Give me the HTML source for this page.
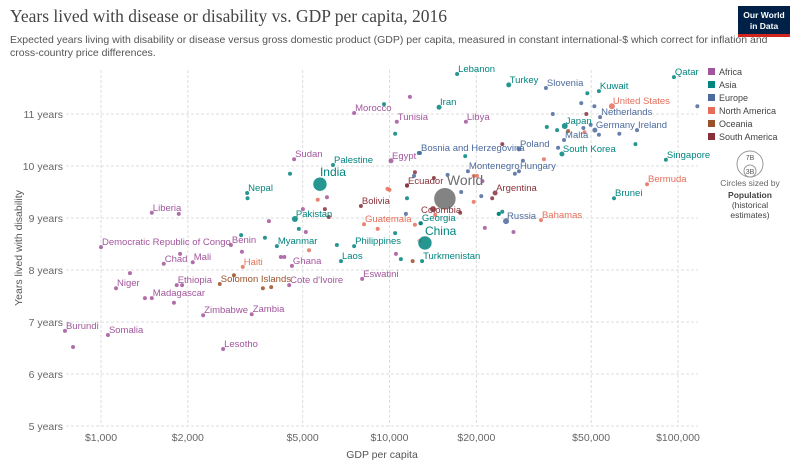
<!DOCTYPE html>
<html><head><meta charset="utf-8">
<style>
body{margin:0;background:#fff;font-family:"Liberation Sans",sans-serif;}
#wrap{position:relative;width:800px;height:466px;overflow:hidden;}
</style></head>
<body>
<div id="wrap">
<svg id="svg" width="800" height="466" xmlns="http://www.w3.org/2000/svg">
<text x="10" y="22" font-family="Liberation Serif,serif" font-size="17.5" fill="#444">Years lived with disease or disability vs. GDP per capita, 2016</text>
<text x="10" y="43" font-size="10.5" fill="#555">Expected years living with disability or disease versus gross domestic product (GDP) per capita, measured in constant international-$ which correct for inflation and</text>
<text x="10" y="56" font-size="10.5" fill="#555">cross-country price differences.</text>
<g>
<rect x="738" y="6" width="52" height="31" fill="#002147"/>
<rect x="738" y="34" width="52" height="3" fill="#ce261e"/>
<text x="764" y="18" font-size="8.5" fill="#fff" text-anchor="middle" font-weight="bold">Our World</text>
<text x="764" y="29" font-size="8.5" fill="#fff" text-anchor="middle" font-weight="bold">in Data</text>
</g>
<g id="grid"></g>
<g id="axes"></g>
<g id="points"></g>
<g id="labels"></g>
<g id="legend"></g>
<g>
<circle cx="750" cy="164" r="13" fill="none" stroke="#999"/>
<circle cx="750" cy="171" r="6" fill="none" stroke="#999"/>
<text x="750" y="160" font-size="7" fill="#555" text-anchor="middle">7B</text>
<text x="750" y="174" font-size="7" fill="#555" text-anchor="middle">3B</text>
<text x="750" y="186" font-size="8.5" fill="#666" text-anchor="middle">Circles sized by</text>
<text x="750" y="198" font-size="8.5" fill="#444" font-weight="bold" text-anchor="middle">Population</text>
<text x="750" y="208" font-size="8.5" fill="#444" text-anchor="middle">(historical</text>
<text x="750" y="218" font-size="8.5" fill="#444" text-anchor="middle">estimates)</text>
</g>
</svg>
</div>
<script>
const regions=["Africa","Asia","Europe","North America","Oceania","South America"];
const regionColors=["#a2559c","#00847e","#4c6a9c","#e56e5a","#9a5129","#883039"];
const xTicks=[1000,2000,5000,10000,20000,50000,100000];
const xTickLabels=["$1,000","$2,000","$5,000","$10,000","$20,000","$50,000","$100,000"];
const yTicks=[5,6,7,8,9,10,11];
// labeled countries: name, region index (-1 world), gdp, years, radius
const names=["Morocco","Tunisia","Sudan","Palestine","India","Nepal","Liberia","Pakistan","Bolivia","Guatemala","Democratic Republic of Congo","Benin","Myanmar","Philippines","Chad","Mali","Haiti","Ghana","Laos","Turkmenistan","China","Georgia","Eswatini","Cote d'Ivoire","Solomon Islands","Ethiopia","Niger","Madagascar","Zimbabwe","Zambia","Burundi","Somalia","Lesotho","Lebanon","Turkey","Slovenia","Kuwait","Qatar","United States","Netherlands","Iran","Libya","Japan","Germany","Ireland","Malta","Poland","South Korea","Singapore","Bosnia and Herzegovina","Egypt","Montenegro","Hungary","Ecuador","World","Colombia","Argentina","Russia","Bahamas","Bermuda","Brunei"];
const nameRegion=[0,0,0,1,1,1,0,1,5,3,0,0,1,1,0,0,3,0,1,1,1,1,0,0,4,0,0,0,0,0,0,0,0,1,1,2,1,1,3,2,1,0,1,2,2,2,2,1,1,2,0,2,2,5,-1,5,5,2,3,3,1];
const nameGdp=[7540,10600,4670,6370,5740,3210,1500,4700,7960,8160,1000,2820,4070,7540,1650,2080,3100,4590,6790,12970,13270,12850,8040,4490,2580,1830,1127,1500,2260,3330,750,1057,2650,17150,25900,34850,53200,96800,59000,53700,14850,18400,40500,51500,72100,40270,28100,39600,90800,12760,10120,18700,28100,11500,15560,14150,23230,25350,33500,78100,60000];
const nameYears=[11.02,10.85,10.13,10.02,9.65,9.48,9.10,8.98,9.23,8.88,8.44,8.48,8.46,8.46,8.12,8.15,8.06,8.08,8.17,8.17,8.52,8.90,7.83,7.71,7.73,7.71,7.65,7.46,7.13,7.15,6.83,6.75,6.48,11.77,11.56,11.50,11.44,11.71,11.15,10.94,11.13,10.85,10.77,10.69,10.69,10.50,10.33,10.23,10.12,10.25,10.10,9.90,9.90,9.62,9.37,9.17,9.48,8.94,8.96,9.65,9.38];
const nameRadius=[2,2,2,2,7,2,2,3,2,2,2,2,2,2,2,2,2,2,2,2,7,2,2,2,2,2,2,2,2,2,2,2,2,2,2.5,2,2,2,3,2,2.5,2,3,2.5,2,2,2.5,2.5,2,2,2.5,2,2,2,11,3,2.5,3,2,2,2];
// unlabeled countries
const otherRegion=[1,1,3,0,0,5,5,0,0,1,0,1,1,1,3,1,1,0,1,5,2,5,3,1,2,3,3,1,0,0,0,0,4,0,4,4,0,0,0,0,1,4,0,1,5,3,5,2,2,1,2,5,1,1,4,3,2,2,1,2,2,3,2,1,2,2,3,3,0,5,2,2,2,5,3,0,1,1,1,3,3,0,2];
const otherGdp=[4520,3220,5640,6070,5010,5970,6160,1860,3820,4850,5130,3060,3700,6570,5260,10460,9570,11770,12640,12250,12160,11500,10000,11500,11400,12250,9100,10460,1880,3080,4200,4320,2890,1260,3640,3890,1420,1790,1910,10530,10950,12030,21400,23940,17580,19580,24600,36800,46200,48500,51300,48100,35100,38100,41600,47400,47000,49800,71200,53200,62600,34300,116700,18300,29000,27200,20100,19600,21000,14250,15900,17720,20800,22700,9840,26900,23900,24600,12800,14400,12700,800,38400];
const otherYears=[9.85,9.38,9.35,9.40,9.17,9.17,9.02,9.08,8.94,8.79,8.73,8.67,8.62,8.48,8.38,10.62,11.19,11.33,10.25,9.88,9.81,9.63,9.54,9.38,9.08,8.87,8.79,8.71,8.31,8.35,8.25,8.25,7.90,7.94,7.65,7.67,7.46,7.37,7.71,8.31,8.21,8.17,8.81,9.08,9.10,9.31,10.42,11.0,11.21,11.40,11.15,11.0,10.75,10.69,10.67,10.65,10.73,10.79,10.42,10.60,10.62,10.13,11.15,10.19,10.10,9.85,9.81,9.81,9.71,9.77,9.83,9.50,9.42,9.38,9.56,8.73,9.08,9.12,8.90,9.06,8.56,6.52,10.35];

const NS="http://www.w3.org/2000/svg";
function xs(v){return 101+(Math.log10(v)-3)*288.5;}
function ys(v){return 114-(v-11)*52;}
function mk(tag,attrs,parent,text){const e=document.createElementNS(NS,tag);for(const k in attrs)e.setAttribute(k,attrs[k]);if(text!==undefined)e.textContent=text;parent.appendChild(e);return e;}
const grid=document.getElementById('grid'),axes=document.getElementById('axes'),pts=document.getElementById('points'),lbl=document.getElementById('labels'),leg=document.getElementById('legend');
yTicks.forEach(t=>{
  const l=mk('line',{x1:66,x2:698,y1:ys(t),y2:ys(t),stroke:'#ddd','stroke-dasharray':'3,2'},grid);
  
  
  const tx=mk('text',{x:63,y:ys(t)+4,'font-size':10.5,fill:'#666','text-anchor':'end'},axes,t+' years');
  
  
});
xTicks.forEach((t,i)=>{
  const l=mk('line',{x1:xs(t),x2:xs(t),y1:70,y2:426,stroke:'#ddd','stroke-dasharray':'3,2'},grid);
  
  
  const tx=mk('text',{x:xs(t),y:441,'font-size':10.5,fill:'#666','text-anchor':'middle'},axes,xTickLabels[i]);
  
  
});
const xt=mk('text',{x:382,y:458,'font-size':10.5,fill:'#555','text-anchor':'middle'},axes,'GDP per capita');


const yt=mk('text',{x:0,y:0,'font-size':10.5,fill:'#555','text-anchor':'middle',transform:'translate(22,248) rotate(-90)'},axes,'Years lived with disability');


otherGdp.forEach((g,i)=>{
  const c=mk('circle',{cx:xs(g),cy:ys(otherYears[i]),r:2,fill:regionColors[otherRegion[i]],'fill-opacity':0.85},pts);
  
  
});
names.forEach((n,i)=>{
  const col=nameRegion[i]<0?'#6d6d6d':regionColors[nameRegion[i]];
  const cx=xs(nameGdp[i]),cy=ys(nameYears[i]),r=nameRadius[i];
  const c=mk('circle',{cx:cx,cy:cy,r:r,fill:col,'fill-opacity':0.85,stroke:r>3?'#fff':'none','stroke-width':0.5},pts);
  
  
  let fs=9.5,dy=-2,dx=1;
  if(n==='India'||n==='China'){fs=12;dy=-r-1;dx=0;}
  if(n==='World'){fs=14;dy=-r-3;dx=2;}
  if(n==='Colombia'){dy=4;dx=-12;}
  const t=mk('text',{x:cx+dx,y:cy+dy,'font-size':fs,fill:col},lbl,n);
  
  
});
regions.forEach((r,i)=>{
  const y=75+i*13;
  const s=mk('rect',{x:708,y:y-7,width:7,height:7,fill:regionColors[i]},leg);
  
  
  const t=mk('text',{x:719,y:y,'font-size':9,fill:'#444'},leg,r);
  
  
});
</script>
</body></html>
